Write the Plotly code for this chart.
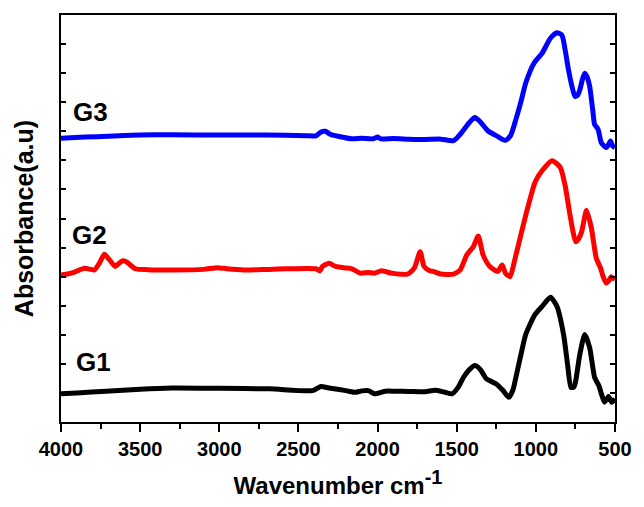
import plotly.graph_objects as go

# Wavenumbers (cm-1) and absorbance (offset, a.u.)
g3_x = [4000, 3850, 3700, 3500, 3300, 3000, 2700, 2450, 2390, 2360, 2330, 2300, 2250, 2160, 2100, 2030, 2000, 1980,
        1900, 1800, 1700, 1600, 1520, 1470, 1420, 1385, 1350, 1302, 1250, 1192, 1160, 1126, 1095, 1064, 1012, 960,
        908, 867, 836, 815, 794, 770, 753, 735, 722, 705, 691, 675, 660, 640, 629, 607, 587, 570, 556, 540, 529, 515, 500]
g3_y = [9.76, 9.8, 9.83, 9.87, 9.88, 9.87, 9.87, 9.85, 9.84, 9.97, 10.0, 9.9, 9.83, 9.74, 9.76, 9.74, 9.8, 9.74,
        9.75, 9.73, 9.72, 9.73, 9.68, 9.95, 10.3, 10.47, 10.32, 10.01, 9.85, 9.69, 9.85, 10.41, 11.0, 11.66, 12.34, 12.69,
        13.2, 13.39, 13.31, 12.8, 12.12, 11.5, 11.2, 11.25, 11.43, 11.8, 12.0, 11.85, 11.55, 10.7, 10.24, 10.07, 9.61, 9.5, 9.44, 9.55, 9.67, 9.5, 9.44]

g2_x = [4000, 3960, 3924, 3880, 3851, 3810, 3789, 3758, 3726, 3700, 3685, 3658, 3635, 3613, 3590, 3575, 3530, 3450,
        3302, 3100, 3011, 2950, 2845, 2700, 2576, 2390, 2365, 2348, 2307, 2265, 2200, 2162, 2110, 2058, 2020, 1975,
        1913, 1850, 1810, 1768, 1731, 1706, 1670, 1648, 1602, 1519, 1478, 1437, 1395, 1364, 1333, 1291, 1240, 1213,
        1192, 1163, 1136, 1095, 1053, 1005, 960, 898, 846, 815, 784, 748, 730, 711, 680, 649, 618, 591, 575, 556, 540, 525, 500]
g2_y = [5.06, 5.09, 5.14, 5.24, 5.29, 5.25, 5.23, 5.46, 5.77, 5.62, 5.52, 5.35, 5.45, 5.54, 5.52, 5.46, 5.27, 5.24,
        5.23, 5.25, 5.31, 5.27, 5.23, 5.25, 5.27, 5.27, 5.2, 5.35, 5.46, 5.35, 5.3, 5.27, 5.12, 5.14, 5.12, 5.2,
        5.12, 5.08, 5.09, 5.29, 5.86, 5.35, 5.2, 5.18, 5.09, 5.09, 5.23, 5.74, 6.03, 6.4, 5.74, 5.35, 5.18, 5.4,
        5.12, 5.0, 5.52, 6.43, 7.34, 8.25, 8.65, 8.99, 8.76, 8.13, 7.11, 6.2, 6.3, 6.54, 7.28, 6.66, 5.63, 5.29, 5.0, 4.78, 4.85, 5.0, 4.89]

g1_x = [4000, 3900, 3716, 3500, 3302, 3000, 2680, 2410, 2359, 2307, 2200, 2141, 2100, 2058, 2019, 1950, 1892, 1800,
        1700, 1637, 1580, 1530, 1490, 1457, 1420, 1385, 1350, 1312, 1250, 1210, 1171, 1145, 1126, 1095, 1064, 1005,
        960, 908, 867, 825, 800, 778, 760, 748, 722, 691, 660, 629, 602, 585, 566, 541, 520, 500]
g1_y = [0.97, 1.0, 1.06, 1.13, 1.17, 1.16, 1.14, 1.08, 1.22, 1.17, 1.08, 1.02, 1.07, 1.08, 0.97, 1.06, 1.06, 1.05,
        1.04, 1.09, 1.03, 0.97, 1.2, 1.54, 1.8, 1.94, 1.8, 1.48, 1.31, 1.1, 0.85, 1.1, 1.54, 2.3, 3.01, 3.7,
        3.98, 4.29, 3.98, 3.01, 2.0, 1.19, 1.2, 1.42, 2.33, 3.01, 2.56, 1.54, 1.25, 0.95, 0.68, 0.88, 0.68, 0.8]

series_names = ["G1", "G2", "G3"]
series_colors = ["#000000", "#ff0000", "#0000ff"]
label_x = [3795, 3820, 3813]
label_y = [2.08, 6.42, 10.65]
x_ticks = [4000, 3500, 3000, 2500, 2000, 1500, 1000, 500]

FONT = "Liberation Sans, Arial, sans-serif"

fig = go.Figure()
for xs, ys, name, col in zip([g1_x, g2_x, g3_x], [g1_y, g2_y, g3_y], series_names, series_colors):
    fig.add_trace(go.Scatter(x=xs, y=ys, mode="lines", name=name,
                             line=dict(color=col, width=5, shape="spline", smoothing=0.6)))

for name, lx, ly in zip(series_names, label_x, label_y):
    fig.add_annotation(x=lx, y=ly, text="<b>%s</b>" % name, showarrow=False,
                       font=dict(family=FONT, size=26, color="black"))

fig.update_layout(
    width=644, height=507,
    margin=dict(l=61, r=20, t=15, b=82),
    paper_bgcolor="white", plot_bgcolor="white",
    showlegend=False,
    font=dict(family=FONT, color="black"),
)
fig.update_xaxes(
    range=[4000, 500], tickvals=x_ticks, ticktext=[str(v) for v in x_ticks],
    ticks="outside", ticklen=8, tickwidth=1.5, tickcolor="black",
    minor=dict(dtick=250, ticks="outside", ticklen=5, tickwidth=1.5, tickcolor="black"),
    showline=True, linewidth=2, linecolor="black", mirror=True,
    showgrid=False, zeroline=False,
    tickfont=dict(family=FONT, size=20, color="black", weight="bold"),
    title=dict(text="<b>Wavenumber cm<sup><span style='font-size:20px'>-1</span></sup></b>",
               font=dict(family=FONT, size=24, color="black"), standoff=18),
)
fig.update_yaxes(
    range=[0, 14], dtick=1, showticklabels=False,
    ticks="inside", ticklen=5, tickwidth=1.5, tickcolor="black",
    showline=True, linewidth=2, linecolor="black", mirror="ticks",
    showgrid=False, zeroline=False,
    title=dict(text="<b>Absorbance(a.u)</b>", font=dict(family=FONT, size=25, color="black"), standoff=18),
)

fig.write_html("out.html")
